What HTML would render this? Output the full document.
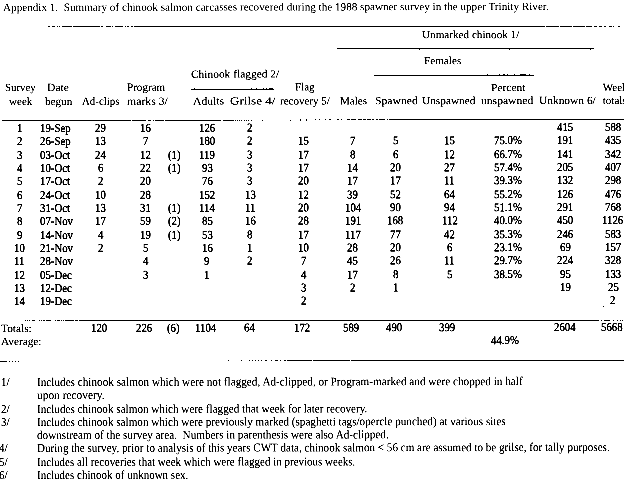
<!DOCTYPE html>
<html><head><meta charset="utf-8"><style>
html,body{margin:0;padding:0;background:#fff;}
body{width:624px;height:503px;position:relative;overflow:hidden;filter:grayscale(1) contrast(3);font-family:"Liberation Serif",serif;color:#000;}
.t{position:absolute;white-space:pre;line-height:1;-webkit-text-stroke:0.15px #000;transform-origin:0 0;}
.l{position:absolute;background:#000;}
</style></head><body>

<div id="w" style="position:absolute;left:0;top:0;width:624px;height:503px;transform-origin:0 0;transform:skewY(-0.1deg)">
<div class="t" style="left:3.40px;top:1.66px;font-size:11.15px;transform:scale(1.0011,1.0000);-webkit-text-stroke:0.08px #000">Appendix 1.  Summary of chinook salmon carcasses recovered during the 1988 spawner survey in the upper Trinity River.</div>
<div class="t" style="left:421.80px;top:29.79px;font-size:11px;transform:scale(1.0144,1.0000)">Unmarked chinook 1/</div>
<div class="t" style="left:424.40px;top:55.79px;font-size:11px;transform:scale(1.0156,1.0000)">Females</div>
<div class="t" style="left:191.00px;top:68.79px;font-size:11px;transform:scale(1.0380,1.0000)">Chinook flagged 2/</div>
<div class="t" style="left:5.40px;top:81.79px;font-size:11px;transform:scale(0.9844,1.0000)">Survey</div>
<div class="t" style="left:8.70px;top:95.79px;font-size:11px;transform:scale(1.0082,1.0000)">week</div>
<div class="t" style="left:47.40px;top:81.79px;font-size:11px;transform:scale(1.0582,1.0000)">Date</div>
<div class="t" style="left:44.60px;top:95.79px;font-size:11px;transform:scale(1.0151,1.0000)">begun</div>
<div class="t" style="left:81.70px;top:95.79px;font-size:11px;transform:scale(0.9869,1.0000)">Ad-clips</div>
<div class="t" style="left:127.20px;top:81.79px;font-size:11px;transform:scale(1.0080,1.0000)">Program</div>
<div class="t" style="left:127.20px;top:95.79px;font-size:11px;transform:scale(1.0700,1.0000)">marks 3/</div>
<div class="t" style="left:192.70px;top:95.79px;font-size:11px;transform:scale(1.0609,1.0000)">Adults</div>
<div class="t" style="left:230.10px;top:95.79px;font-size:11px;transform:scale(1.1903,1.0000)">Grilse 4/</div>
<div class="t" style="left:294.60px;top:81.79px;font-size:11px;transform:scale(1.0010,1.0000)">Flag</div>
<div class="t" style="left:280.40px;top:95.79px;font-size:11px;transform:scale(1.0014,1.0000)">recovery 5/</div>
<div class="t" style="left:339.70px;top:95.79px;font-size:11px;transform:scale(1.0076,1.0000)">Males</div>
<div class="t" style="left:374.60px;top:95.79px;font-size:11px;transform:scale(1.0592,1.0000)">Spawned</div>
<div class="t" style="left:422.20px;top:95.79px;font-size:11px;transform:scale(1.0285,1.0000)">Unspawned</div>
<div class="t" style="left:490.90px;top:82.79px;font-size:11px;transform:scale(1.0455,1.0000)">Percent</div>
<div class="t" style="left:480.90px;top:95.79px;font-size:11px;transform:scale(1.0566,1.0000)">unspawned</div>
<div class="t" style="left:539.00px;top:95.79px;font-size:11px;transform:scale(1.0379,1.0000)">Unknown 6/</div>
<div class="t" style="left:602.80px;top:82.79px;font-size:11px">Week</div>
<div class="t" style="left:602.80px;top:95.79px;font-size:11px">totals</div>
<div class="t" style="left:16.80px;top:122.05px;font-size:12px;transform:scale(0.9000,1.0000);-webkit-text-stroke:0.35px #000">1</div>
<div class="t" style="left:39.60px;top:122.05px;font-size:12px;transform:scale(0.9000,1.0000);-webkit-text-stroke:0.35px #000">19-Sep</div>
<div class="t" style="left:95.00px;top:122.05px;font-size:12px;transform:scale(0.9000,1.0000);-webkit-text-stroke:0.35px #000">29</div>
<div class="t" style="left:140.20px;top:122.05px;font-size:12px;transform:scale(0.9000,1.0000);-webkit-text-stroke:0.35px #000">16</div>
<div class="t" style="left:198.90px;top:122.05px;font-size:12px;transform:scale(0.9000,1.0000);-webkit-text-stroke:0.35px #000">126</div>
<div class="t" style="left:247.30px;top:122.05px;font-size:12px;transform:scale(0.9000,1.0000);-webkit-text-stroke:0.35px #000">2</div>
<div class="t" style="left:557.20px;top:122.05px;font-size:12px;transform:scale(0.9000,1.0000);-webkit-text-stroke:0.35px #000">415</div>
<div class="t" style="left:604.90px;top:122.05px;font-size:12px;transform:scale(0.9000,1.0000);-webkit-text-stroke:0.35px #000">588</div>
<div class="t" style="left:16.80px;top:135.38px;font-size:12px;transform:scale(0.9000,1.0000);-webkit-text-stroke:0.35px #000">2</div>
<div class="t" style="left:39.60px;top:135.38px;font-size:12px;transform:scale(0.9000,1.0000);-webkit-text-stroke:0.35px #000">26-Sep</div>
<div class="t" style="left:95.00px;top:135.38px;font-size:12px;transform:scale(0.9000,1.0000);-webkit-text-stroke:0.35px #000">13</div>
<div class="t" style="left:142.90px;top:135.38px;font-size:12px;transform:scale(0.9000,1.0000);-webkit-text-stroke:0.35px #000">7</div>
<div class="t" style="left:198.90px;top:135.38px;font-size:12px;transform:scale(0.9000,1.0000);-webkit-text-stroke:0.35px #000">180</div>
<div class="t" style="left:247.30px;top:135.38px;font-size:12px;transform:scale(0.9000,1.0000);-webkit-text-stroke:0.35px #000">2</div>
<div class="t" style="left:298.40px;top:135.38px;font-size:12px;transform:scale(0.9000,1.0000);-webkit-text-stroke:0.35px #000">15</div>
<div class="t" style="left:350.00px;top:135.38px;font-size:12px;transform:scale(0.9000,1.0000);-webkit-text-stroke:0.35px #000">7</div>
<div class="t" style="left:392.60px;top:135.38px;font-size:12px;transform:scale(0.9000,1.0000);-webkit-text-stroke:0.35px #000">5</div>
<div class="t" style="left:444.10px;top:135.38px;font-size:12px;transform:scale(0.9000,1.0000);-webkit-text-stroke:0.35px #000">15</div>
<div class="t" style="left:493.64px;top:135.38px;font-size:12px;transform:scale(0.9000,1.0000);-webkit-text-stroke:0.35px #000">75.0%</div>
<div class="t" style="left:557.20px;top:135.38px;font-size:12px;transform:scale(0.9000,1.0000);-webkit-text-stroke:0.35px #000">191</div>
<div class="t" style="left:604.90px;top:135.38px;font-size:12px;transform:scale(0.9000,1.0000);-webkit-text-stroke:0.35px #000">435</div>
<div class="t" style="left:16.80px;top:148.71px;font-size:12px;transform:scale(0.9000,1.0000);-webkit-text-stroke:0.35px #000">3</div>
<div class="t" style="left:39.60px;top:148.71px;font-size:12px;transform:scale(0.9000,1.0000);-webkit-text-stroke:0.35px #000">03-Oct</div>
<div class="t" style="left:95.00px;top:148.71px;font-size:12px;transform:scale(0.9000,1.0000);-webkit-text-stroke:0.35px #000">24</div>
<div class="t" style="left:140.20px;top:148.71px;font-size:12px;transform:scale(0.9000,1.0000);-webkit-text-stroke:0.35px #000">12</div>
<div class="t" style="left:167.91px;top:148.71px;font-size:12px;transform:scale(0.9000,1.0000);-webkit-text-stroke:0.35px #000">(1)</div>
<div class="t" style="left:199.09px;top:148.71px;font-size:12px;transform:scale(0.9000,1.0000);-webkit-text-stroke:0.35px #000">119</div>
<div class="t" style="left:247.30px;top:148.71px;font-size:12px;transform:scale(0.9000,1.0000);-webkit-text-stroke:0.35px #000">3</div>
<div class="t" style="left:298.40px;top:148.71px;font-size:12px;transform:scale(0.9000,1.0000);-webkit-text-stroke:0.35px #000">17</div>
<div class="t" style="left:350.00px;top:148.71px;font-size:12px;transform:scale(0.9000,1.0000);-webkit-text-stroke:0.35px #000">8</div>
<div class="t" style="left:392.60px;top:148.71px;font-size:12px;transform:scale(0.9000,1.0000);-webkit-text-stroke:0.35px #000">6</div>
<div class="t" style="left:444.10px;top:148.71px;font-size:12px;transform:scale(0.9000,1.0000);-webkit-text-stroke:0.35px #000">12</div>
<div class="t" style="left:493.64px;top:148.71px;font-size:12px;transform:scale(0.9000,1.0000);-webkit-text-stroke:0.35px #000">66.7%</div>
<div class="t" style="left:557.20px;top:148.71px;font-size:12px;transform:scale(0.9000,1.0000);-webkit-text-stroke:0.35px #000">141</div>
<div class="t" style="left:604.90px;top:148.71px;font-size:12px;transform:scale(0.9000,1.0000);-webkit-text-stroke:0.35px #000">342</div>
<div class="t" style="left:16.80px;top:162.04px;font-size:12px;transform:scale(0.9000,1.0000);-webkit-text-stroke:0.35px #000">4</div>
<div class="t" style="left:39.60px;top:162.04px;font-size:12px;transform:scale(0.9000,1.0000);-webkit-text-stroke:0.35px #000">10-Oct</div>
<div class="t" style="left:97.70px;top:162.04px;font-size:12px;transform:scale(0.9000,1.0000);-webkit-text-stroke:0.35px #000">6</div>
<div class="t" style="left:140.20px;top:162.04px;font-size:12px;transform:scale(0.9000,1.0000);-webkit-text-stroke:0.35px #000">22</div>
<div class="t" style="left:167.91px;top:162.04px;font-size:12px;transform:scale(0.9000,1.0000);-webkit-text-stroke:0.35px #000">(1)</div>
<div class="t" style="left:201.60px;top:162.04px;font-size:12px;transform:scale(0.9000,1.0000);-webkit-text-stroke:0.35px #000">93</div>
<div class="t" style="left:247.30px;top:162.04px;font-size:12px;transform:scale(0.9000,1.0000);-webkit-text-stroke:0.35px #000">3</div>
<div class="t" style="left:298.40px;top:162.04px;font-size:12px;transform:scale(0.9000,1.0000);-webkit-text-stroke:0.35px #000">17</div>
<div class="t" style="left:347.30px;top:162.04px;font-size:12px;transform:scale(0.9000,1.0000);-webkit-text-stroke:0.35px #000">14</div>
<div class="t" style="left:389.90px;top:162.04px;font-size:12px;transform:scale(0.9000,1.0000);-webkit-text-stroke:0.35px #000">20</div>
<div class="t" style="left:444.10px;top:162.04px;font-size:12px;transform:scale(0.9000,1.0000);-webkit-text-stroke:0.35px #000">27</div>
<div class="t" style="left:493.64px;top:162.04px;font-size:12px;transform:scale(0.9000,1.0000);-webkit-text-stroke:0.35px #000">57.4%</div>
<div class="t" style="left:557.20px;top:162.04px;font-size:12px;transform:scale(0.9000,1.0000);-webkit-text-stroke:0.35px #000">205</div>
<div class="t" style="left:604.90px;top:162.04px;font-size:12px;transform:scale(0.9000,1.0000);-webkit-text-stroke:0.35px #000">407</div>
<div class="t" style="left:16.80px;top:175.37px;font-size:12px;transform:scale(0.9000,1.0000);-webkit-text-stroke:0.35px #000">5</div>
<div class="t" style="left:39.60px;top:175.37px;font-size:12px;transform:scale(0.9000,1.0000);-webkit-text-stroke:0.35px #000">17-Oct</div>
<div class="t" style="left:97.70px;top:175.37px;font-size:12px;transform:scale(0.9000,1.0000);-webkit-text-stroke:0.35px #000">2</div>
<div class="t" style="left:140.20px;top:175.37px;font-size:12px;transform:scale(0.9000,1.0000);-webkit-text-stroke:0.35px #000">20</div>
<div class="t" style="left:201.60px;top:175.37px;font-size:12px;transform:scale(0.9000,1.0000);-webkit-text-stroke:0.35px #000">76</div>
<div class="t" style="left:247.30px;top:175.37px;font-size:12px;transform:scale(0.9000,1.0000);-webkit-text-stroke:0.35px #000">3</div>
<div class="t" style="left:298.40px;top:175.37px;font-size:12px;transform:scale(0.9000,1.0000);-webkit-text-stroke:0.35px #000">20</div>
<div class="t" style="left:347.30px;top:175.37px;font-size:12px;transform:scale(0.9000,1.0000);-webkit-text-stroke:0.35px #000">17</div>
<div class="t" style="left:389.90px;top:175.37px;font-size:12px;transform:scale(0.9000,1.0000);-webkit-text-stroke:0.35px #000">17</div>
<div class="t" style="left:444.29px;top:175.37px;font-size:12px;transform:scale(0.9000,1.0000);-webkit-text-stroke:0.35px #000">11</div>
<div class="t" style="left:493.64px;top:175.37px;font-size:12px;transform:scale(0.9000,1.0000);-webkit-text-stroke:0.35px #000">39.3%</div>
<div class="t" style="left:557.20px;top:175.37px;font-size:12px;transform:scale(0.9000,1.0000);-webkit-text-stroke:0.35px #000">132</div>
<div class="t" style="left:604.90px;top:175.37px;font-size:12px;transform:scale(0.9000,1.0000);-webkit-text-stroke:0.35px #000">298</div>
<div class="t" style="left:16.80px;top:188.70px;font-size:12px;transform:scale(0.9000,1.0000);-webkit-text-stroke:0.35px #000">6</div>
<div class="t" style="left:39.60px;top:188.70px;font-size:12px;transform:scale(0.9000,1.0000);-webkit-text-stroke:0.35px #000">24-Oct</div>
<div class="t" style="left:95.00px;top:188.70px;font-size:12px;transform:scale(0.9000,1.0000);-webkit-text-stroke:0.35px #000">10</div>
<div class="t" style="left:140.20px;top:188.70px;font-size:12px;transform:scale(0.9000,1.0000);-webkit-text-stroke:0.35px #000">28</div>
<div class="t" style="left:198.90px;top:188.70px;font-size:12px;transform:scale(0.9000,1.0000);-webkit-text-stroke:0.35px #000">152</div>
<div class="t" style="left:244.60px;top:188.70px;font-size:12px;transform:scale(0.9000,1.0000);-webkit-text-stroke:0.35px #000">13</div>
<div class="t" style="left:298.40px;top:188.70px;font-size:12px;transform:scale(0.9000,1.0000);-webkit-text-stroke:0.35px #000">12</div>
<div class="t" style="left:347.30px;top:188.70px;font-size:12px;transform:scale(0.9000,1.0000);-webkit-text-stroke:0.35px #000">39</div>
<div class="t" style="left:389.90px;top:188.70px;font-size:12px;transform:scale(0.9000,1.0000);-webkit-text-stroke:0.35px #000">52</div>
<div class="t" style="left:444.10px;top:188.70px;font-size:12px;transform:scale(0.9000,1.0000);-webkit-text-stroke:0.35px #000">64</div>
<div class="t" style="left:493.64px;top:188.70px;font-size:12px;transform:scale(0.9000,1.0000);-webkit-text-stroke:0.35px #000">55.2%</div>
<div class="t" style="left:557.20px;top:188.70px;font-size:12px;transform:scale(0.9000,1.0000);-webkit-text-stroke:0.35px #000">126</div>
<div class="t" style="left:604.90px;top:188.70px;font-size:12px;transform:scale(0.9000,1.0000);-webkit-text-stroke:0.35px #000">476</div>
<div class="t" style="left:16.80px;top:202.03px;font-size:12px;transform:scale(0.9000,1.0000);-webkit-text-stroke:0.35px #000">7</div>
<div class="t" style="left:39.60px;top:202.03px;font-size:12px;transform:scale(0.9000,1.0000);-webkit-text-stroke:0.35px #000">31-Oct</div>
<div class="t" style="left:95.00px;top:202.03px;font-size:12px;transform:scale(0.9000,1.0000);-webkit-text-stroke:0.35px #000">13</div>
<div class="t" style="left:140.20px;top:202.03px;font-size:12px;transform:scale(0.9000,1.0000);-webkit-text-stroke:0.35px #000">31</div>
<div class="t" style="left:167.91px;top:202.03px;font-size:12px;transform:scale(0.9000,1.0000);-webkit-text-stroke:0.35px #000">(1)</div>
<div class="t" style="left:199.09px;top:202.03px;font-size:12px;transform:scale(0.9000,1.0000);-webkit-text-stroke:0.35px #000">114</div>
<div class="t" style="left:244.79px;top:202.03px;font-size:12px;transform:scale(0.9000,1.0000);-webkit-text-stroke:0.35px #000">11</div>
<div class="t" style="left:298.40px;top:202.03px;font-size:12px;transform:scale(0.9000,1.0000);-webkit-text-stroke:0.35px #000">20</div>
<div class="t" style="left:344.60px;top:202.03px;font-size:12px;transform:scale(0.9000,1.0000);-webkit-text-stroke:0.35px #000">104</div>
<div class="t" style="left:389.90px;top:202.03px;font-size:12px;transform:scale(0.9000,1.0000);-webkit-text-stroke:0.35px #000">90</div>
<div class="t" style="left:444.10px;top:202.03px;font-size:12px;transform:scale(0.9000,1.0000);-webkit-text-stroke:0.35px #000">94</div>
<div class="t" style="left:493.64px;top:202.03px;font-size:12px;transform:scale(0.9000,1.0000);-webkit-text-stroke:0.35px #000">51.1%</div>
<div class="t" style="left:557.20px;top:202.03px;font-size:12px;transform:scale(0.9000,1.0000);-webkit-text-stroke:0.35px #000">291</div>
<div class="t" style="left:604.90px;top:202.03px;font-size:12px;transform:scale(0.9000,1.0000);-webkit-text-stroke:0.35px #000">768</div>
<div class="t" style="left:16.80px;top:215.36px;font-size:12px;transform:scale(0.9000,1.0000);-webkit-text-stroke:0.35px #000">8</div>
<div class="t" style="left:39.60px;top:215.36px;font-size:12px;transform:scale(0.9000,1.0000);-webkit-text-stroke:0.35px #000">07-Nov</div>
<div class="t" style="left:95.00px;top:215.36px;font-size:12px;transform:scale(0.9000,1.0000);-webkit-text-stroke:0.35px #000">17</div>
<div class="t" style="left:140.20px;top:215.36px;font-size:12px;transform:scale(0.9000,1.0000);-webkit-text-stroke:0.35px #000">59</div>
<div class="t" style="left:167.91px;top:215.36px;font-size:12px;transform:scale(0.9000,1.0000);-webkit-text-stroke:0.35px #000">(2)</div>
<div class="t" style="left:201.60px;top:215.36px;font-size:12px;transform:scale(0.9000,1.0000);-webkit-text-stroke:0.35px #000">85</div>
<div class="t" style="left:244.60px;top:215.36px;font-size:12px;transform:scale(0.9000,1.0000);-webkit-text-stroke:0.35px #000">16</div>
<div class="t" style="left:298.40px;top:215.36px;font-size:12px;transform:scale(0.9000,1.0000);-webkit-text-stroke:0.35px #000">28</div>
<div class="t" style="left:344.60px;top:215.36px;font-size:12px;transform:scale(0.9000,1.0000);-webkit-text-stroke:0.35px #000">191</div>
<div class="t" style="left:387.20px;top:215.36px;font-size:12px;transform:scale(0.9000,1.0000);-webkit-text-stroke:0.35px #000">168</div>
<div class="t" style="left:441.59px;top:215.36px;font-size:12px;transform:scale(0.9000,1.0000);-webkit-text-stroke:0.35px #000">112</div>
<div class="t" style="left:493.64px;top:215.36px;font-size:12px;transform:scale(0.9000,1.0000);-webkit-text-stroke:0.35px #000">40.0%</div>
<div class="t" style="left:557.20px;top:215.36px;font-size:12px;transform:scale(0.9000,1.0000);-webkit-text-stroke:0.35px #000">450</div>
<div class="t" style="left:602.39px;top:215.36px;font-size:12px;transform:scale(0.9000,1.0000);-webkit-text-stroke:0.35px #000">1126</div>
<div class="t" style="left:16.80px;top:228.69px;font-size:12px;transform:scale(0.9000,1.0000);-webkit-text-stroke:0.35px #000">9</div>
<div class="t" style="left:39.60px;top:228.69px;font-size:12px;transform:scale(0.9000,1.0000);-webkit-text-stroke:0.35px #000">14-Nov</div>
<div class="t" style="left:97.70px;top:228.69px;font-size:12px;transform:scale(0.9000,1.0000);-webkit-text-stroke:0.35px #000">4</div>
<div class="t" style="left:140.20px;top:228.69px;font-size:12px;transform:scale(0.9000,1.0000);-webkit-text-stroke:0.35px #000">19</div>
<div class="t" style="left:167.91px;top:228.69px;font-size:12px;transform:scale(0.9000,1.0000);-webkit-text-stroke:0.35px #000">(1)</div>
<div class="t" style="left:201.60px;top:228.69px;font-size:12px;transform:scale(0.9000,1.0000);-webkit-text-stroke:0.35px #000">53</div>
<div class="t" style="left:247.30px;top:228.69px;font-size:12px;transform:scale(0.9000,1.0000);-webkit-text-stroke:0.35px #000">8</div>
<div class="t" style="left:298.40px;top:228.69px;font-size:12px;transform:scale(0.9000,1.0000);-webkit-text-stroke:0.35px #000">17</div>
<div class="t" style="left:344.79px;top:228.69px;font-size:12px;transform:scale(0.9000,1.0000);-webkit-text-stroke:0.35px #000">117</div>
<div class="t" style="left:389.90px;top:228.69px;font-size:12px;transform:scale(0.9000,1.0000);-webkit-text-stroke:0.35px #000">77</div>
<div class="t" style="left:444.10px;top:228.69px;font-size:12px;transform:scale(0.9000,1.0000);-webkit-text-stroke:0.35px #000">42</div>
<div class="t" style="left:493.64px;top:228.69px;font-size:12px;transform:scale(0.9000,1.0000);-webkit-text-stroke:0.35px #000">35.3%</div>
<div class="t" style="left:557.20px;top:228.69px;font-size:12px;transform:scale(0.9000,1.0000);-webkit-text-stroke:0.35px #000">246</div>
<div class="t" style="left:604.90px;top:228.69px;font-size:12px;transform:scale(0.9000,1.0000);-webkit-text-stroke:0.35px #000">583</div>
<div class="t" style="left:14.10px;top:242.02px;font-size:12px;transform:scale(0.9000,1.0000);-webkit-text-stroke:0.35px #000">10</div>
<div class="t" style="left:39.60px;top:242.02px;font-size:12px;transform:scale(0.9000,1.0000);-webkit-text-stroke:0.35px #000">21-Nov</div>
<div class="t" style="left:97.70px;top:242.02px;font-size:12px;transform:scale(0.9000,1.0000);-webkit-text-stroke:0.35px #000">2</div>
<div class="t" style="left:142.90px;top:242.02px;font-size:12px;transform:scale(0.9000,1.0000);-webkit-text-stroke:0.35px #000">5</div>
<div class="t" style="left:201.60px;top:242.02px;font-size:12px;transform:scale(0.9000,1.0000);-webkit-text-stroke:0.35px #000">16</div>
<div class="t" style="left:247.30px;top:242.02px;font-size:12px;transform:scale(0.9000,1.0000);-webkit-text-stroke:0.35px #000">1</div>
<div class="t" style="left:298.40px;top:242.02px;font-size:12px;transform:scale(0.9000,1.0000);-webkit-text-stroke:0.35px #000">10</div>
<div class="t" style="left:347.30px;top:242.02px;font-size:12px;transform:scale(0.9000,1.0000);-webkit-text-stroke:0.35px #000">28</div>
<div class="t" style="left:389.90px;top:242.02px;font-size:12px;transform:scale(0.9000,1.0000);-webkit-text-stroke:0.35px #000">20</div>
<div class="t" style="left:446.80px;top:242.02px;font-size:12px;transform:scale(0.9000,1.0000);-webkit-text-stroke:0.35px #000">6</div>
<div class="t" style="left:493.64px;top:242.02px;font-size:12px;transform:scale(0.9000,1.0000);-webkit-text-stroke:0.35px #000">23.1%</div>
<div class="t" style="left:559.90px;top:242.02px;font-size:12px;transform:scale(0.9000,1.0000);-webkit-text-stroke:0.35px #000">69</div>
<div class="t" style="left:604.90px;top:242.02px;font-size:12px;transform:scale(0.9000,1.0000);-webkit-text-stroke:0.35px #000">157</div>
<div class="t" style="left:14.29px;top:255.35px;font-size:12px;transform:scale(0.9000,1.0000);-webkit-text-stroke:0.35px #000">11</div>
<div class="t" style="left:39.60px;top:255.35px;font-size:12px;transform:scale(0.9000,1.0000);-webkit-text-stroke:0.35px #000">28-Nov</div>
<div class="t" style="left:142.90px;top:255.35px;font-size:12px;transform:scale(0.9000,1.0000);-webkit-text-stroke:0.35px #000">4</div>
<div class="t" style="left:204.30px;top:255.35px;font-size:12px;transform:scale(0.9000,1.0000);-webkit-text-stroke:0.35px #000">9</div>
<div class="t" style="left:247.30px;top:255.35px;font-size:12px;transform:scale(0.9000,1.0000);-webkit-text-stroke:0.35px #000">2</div>
<div class="t" style="left:301.10px;top:255.35px;font-size:12px;transform:scale(0.9000,1.0000);-webkit-text-stroke:0.35px #000">7</div>
<div class="t" style="left:347.30px;top:255.35px;font-size:12px;transform:scale(0.9000,1.0000);-webkit-text-stroke:0.35px #000">45</div>
<div class="t" style="left:389.90px;top:255.35px;font-size:12px;transform:scale(0.9000,1.0000);-webkit-text-stroke:0.35px #000">26</div>
<div class="t" style="left:444.29px;top:255.35px;font-size:12px;transform:scale(0.9000,1.0000);-webkit-text-stroke:0.35px #000">11</div>
<div class="t" style="left:493.64px;top:255.35px;font-size:12px;transform:scale(0.9000,1.0000);-webkit-text-stroke:0.35px #000">29.7%</div>
<div class="t" style="left:557.20px;top:255.35px;font-size:12px;transform:scale(0.9000,1.0000);-webkit-text-stroke:0.35px #000">224</div>
<div class="t" style="left:604.90px;top:255.35px;font-size:12px;transform:scale(0.9000,1.0000);-webkit-text-stroke:0.35px #000">328</div>
<div class="t" style="left:14.10px;top:268.68px;font-size:12px;transform:scale(0.9000,1.0000);-webkit-text-stroke:0.35px #000">12</div>
<div class="t" style="left:39.60px;top:268.68px;font-size:12px;transform:scale(0.9000,1.0000);-webkit-text-stroke:0.35px #000">05-Dec</div>
<div class="t" style="left:142.90px;top:268.68px;font-size:12px;transform:scale(0.9000,1.0000);-webkit-text-stroke:0.35px #000">3</div>
<div class="t" style="left:204.30px;top:268.68px;font-size:12px;transform:scale(0.9000,1.0000);-webkit-text-stroke:0.35px #000">1</div>
<div class="t" style="left:301.10px;top:268.68px;font-size:12px;transform:scale(0.9000,1.0000);-webkit-text-stroke:0.35px #000">4</div>
<div class="t" style="left:347.30px;top:268.68px;font-size:12px;transform:scale(0.9000,1.0000);-webkit-text-stroke:0.35px #000">17</div>
<div class="t" style="left:392.60px;top:268.68px;font-size:12px;transform:scale(0.9000,1.0000);-webkit-text-stroke:0.35px #000">8</div>
<div class="t" style="left:446.80px;top:268.68px;font-size:12px;transform:scale(0.9000,1.0000);-webkit-text-stroke:0.35px #000">5</div>
<div class="t" style="left:493.64px;top:268.68px;font-size:12px;transform:scale(0.9000,1.0000);-webkit-text-stroke:0.35px #000">38.5%</div>
<div class="t" style="left:559.90px;top:268.68px;font-size:12px;transform:scale(0.9000,1.0000);-webkit-text-stroke:0.35px #000">95</div>
<div class="t" style="left:604.90px;top:268.68px;font-size:12px;transform:scale(0.9000,1.0000);-webkit-text-stroke:0.35px #000">133</div>
<div class="t" style="left:14.10px;top:282.01px;font-size:12px;transform:scale(0.9000,1.0000);-webkit-text-stroke:0.35px #000">13</div>
<div class="t" style="left:39.60px;top:282.01px;font-size:12px;transform:scale(0.9000,1.0000);-webkit-text-stroke:0.35px #000">12-Dec</div>
<div class="t" style="left:301.10px;top:282.01px;font-size:12px;transform:scale(0.9000,1.0000);-webkit-text-stroke:0.35px #000">3</div>
<div class="t" style="left:350.00px;top:282.01px;font-size:12px;transform:scale(0.9000,1.0000);-webkit-text-stroke:0.35px #000">2</div>
<div class="t" style="left:392.60px;top:282.01px;font-size:12px;transform:scale(0.9000,1.0000);-webkit-text-stroke:0.35px #000">1</div>
<div class="t" style="left:559.90px;top:282.01px;font-size:12px;transform:scale(0.9000,1.0000);-webkit-text-stroke:0.35px #000">19</div>
<div class="t" style="left:607.60px;top:282.01px;font-size:12px;transform:scale(0.9000,1.0000);-webkit-text-stroke:0.35px #000">25</div>
<div class="t" style="left:14.10px;top:295.34px;font-size:12px;transform:scale(0.9000,1.0000);-webkit-text-stroke:0.35px #000">14</div>
<div class="t" style="left:39.60px;top:295.34px;font-size:12px;transform:scale(0.9000,1.0000);-webkit-text-stroke:0.35px #000">19-Dec</div>
<div class="t" style="left:301.10px;top:295.34px;font-size:12px;transform:scale(0.9000,1.0000);-webkit-text-stroke:0.35px #000">2</div>
<div class="t" style="left:610.30px;top:295.34px;font-size:12px;transform:scale(0.9000,1.0000);-webkit-text-stroke:0.35px #000">2</div>
<div class="t" style="left:0.90px;top:322.79px;font-size:11px;transform:scale(1.0318,1.0000)">Totals:</div>
<div class="t" style="left:90.90px;top:321.95px;font-size:12px;transform:scale(0.9000,1.0000);-webkit-text-stroke:0.35px #000">120</div>
<div class="t" style="left:136.20px;top:321.95px;font-size:12px;transform:scale(0.9000,1.0000);-webkit-text-stroke:0.35px #000">226</div>
<div class="t" style="left:167.21px;top:321.95px;font-size:12px;transform:scale(0.9000,1.0000);-webkit-text-stroke:0.35px #000">(6)</div>
<div class="t" style="left:194.79px;top:321.95px;font-size:12px;transform:scale(0.9000,1.0000);-webkit-text-stroke:0.35px #000">1104</div>
<div class="t" style="left:243.90px;top:321.95px;font-size:12px;transform:scale(0.9000,1.0000);-webkit-text-stroke:0.35px #000">64</div>
<div class="t" style="left:294.40px;top:321.95px;font-size:12px;transform:scale(0.9000,1.0000);-webkit-text-stroke:0.35px #000">172</div>
<div class="t" style="left:343.10px;top:321.95px;font-size:12px;transform:scale(0.9000,1.0000);-webkit-text-stroke:0.35px #000">589</div>
<div class="t" style="left:385.60px;top:321.95px;font-size:12px;transform:scale(0.9000,1.0000);-webkit-text-stroke:0.35px #000">490</div>
<div class="t" style="left:438.90px;top:321.95px;font-size:12px;transform:scale(0.9000,1.0000);-webkit-text-stroke:0.35px #000">399</div>
<div class="t" style="left:553.80px;top:321.95px;font-size:12px;transform:scale(0.9000,1.0000);-webkit-text-stroke:0.35px #000">2604</div>
<div class="t" style="left:600.50px;top:321.95px;font-size:12px;transform:scale(0.9000,1.0000);-webkit-text-stroke:0.35px #000">5668</div>
<div class="t" style="left:0.90px;top:336.09px;font-size:11px;transform:scale(1.0256,1.0000)">Average:</div>
<div class="t" style="left:491.14px;top:335.25px;font-size:12px;transform:scale(0.9000,1.0000);-webkit-text-stroke:0.35px #000">44.9%</div>
<div class="t" style="left:1.00px;top:375.95px;font-size:12px;transform:scale(0.9200,1.0000);-webkit-text-stroke:0.15px #000">1/</div>
<div class="t" style="left:37.40px;top:375.95px;font-size:12px;transform:scale(0.9343,1.0000);-webkit-text-stroke:0.15px #000">Includes chinook salmon which were not flagged, Ad-clipped, or Program-marked and were chopped in half</div>
<div class="t" style="left:37.40px;top:389.25px;font-size:12px;transform:scale(0.9492,1.0000);-webkit-text-stroke:0.15px #000">upon recovery.</div>
<div class="t" style="left:1.00px;top:402.85px;font-size:12px;transform:scale(0.9200,1.0000);-webkit-text-stroke:0.15px #000">2/</div>
<div class="t" style="left:37.40px;top:402.85px;font-size:12px;transform:scale(0.9296,1.0000);-webkit-text-stroke:0.15px #000">Includes chinook salmon which were flagged that week for later recovery.</div>
<div class="t" style="left:1.00px;top:416.15px;font-size:12px;transform:scale(0.9200,1.0000);-webkit-text-stroke:0.15px #000">3/</div>
<div class="t" style="left:37.40px;top:416.15px;font-size:12px;transform:scale(0.9290,1.0000);-webkit-text-stroke:0.15px #000">Includes chinook salmon which were previously marked (spaghetti tags/opercle punched) at various sites</div>
<div class="t" style="left:37.40px;top:429.45px;font-size:12px;transform:scale(0.9316,1.0000);-webkit-text-stroke:0.15px #000">downstream of the survey area.  Numbers in parenthesis were also Ad-clipped.</div>
<div class="t" style="left:-0.80px;top:442.45px;font-size:12px;transform:scale(0.9200,1.0000);-webkit-text-stroke:0.15px #000">4/</div>
<div class="t" style="left:37.40px;top:442.45px;font-size:12px;transform:scale(0.9247,1.0000);-webkit-text-stroke:0.15px #000">During the survey, prior to analysis of this years CWT data, chinook salmon &lt; 56 cm are assumed to be grilse, for tally purposes.</div>
<div class="t" style="left:-0.80px;top:455.95px;font-size:12px;transform:scale(0.9200,1.0000);-webkit-text-stroke:0.15px #000">5/</div>
<div class="t" style="left:37.40px;top:455.95px;font-size:12px;transform:scale(0.9159,1.0000);-webkit-text-stroke:0.15px #000">Includes all recoveries that week which were flagged in previous weeks.</div>
<div class="t" style="left:-0.80px;top:468.95px;font-size:12px;transform:scale(0.9200,1.0000);-webkit-text-stroke:0.15px #000">6/</div>
<div class="t" style="left:37.40px;top:468.95px;font-size:12px;transform:scale(0.9170,1.0000);-webkit-text-stroke:0.15px #000">Includes chinook of unknown sex.</div>
</div>
<div class="l" style="left:48px;top:26px;width:1.6px;height:1px"></div>
<div class="l" style="left:52px;top:26px;width:2.9px;height:1px"></div>
<div class="l" style="left:56.8px;top:26px;width:1.0px;height:1px"></div>
<div class="l" style="left:58.7px;top:26px;width:1.0px;height:1px"></div>
<div class="l" style="left:61.9px;top:26px;width:9.7px;height:1px"></div>
<div class="l" style="left:72.8px;top:26px;width:27.0px;height:1px"></div>
<div class="l" style="left:101px;top:26px;width:1.7px;height:1px"></div>
<div class="l" style="left:105.9px;top:26px;width:5.1px;height:1px"></div>
<div class="l" style="left:111.6px;top:26px;width:1.6px;height:1px"></div>
<div class="l" style="left:115.2px;top:26px;width:7.6px;height:1px"></div>
<div class="l" style="left:124.9px;top:26px;width:1.1px;height:1px"></div>
<div class="l" style="left:127px;top:26px;width:1.9px;height:1px"></div>
<div class="l" style="left:130.5px;top:26px;width:2.6px;height:1px"></div>
<div class="l" style="left:134px;top:26px;width:216.0px;height:1px"></div>
<div class="l" style="left:350px;top:25.6px;width:194.8px;height:1px"></div>
<div class="l" style="left:546px;top:25.6px;width:13.0px;height:1px"></div>
<div class="l" style="left:560px;top:25.6px;width:12.0px;height:1px"></div>
<div class="l" style="left:573px;top:25.6px;width:11.5px;height:1px"></div>
<div class="l" style="left:586px;top:25.6px;width:6.0px;height:1px"></div>
<div class="l" style="left:593.5px;top:25.6px;width:3.5px;height:1px"></div>
<div class="l" style="left:599px;top:25.6px;width:3.0px;height:1px"></div>
<div class="l" style="left:604px;top:25.6px;width:2.0px;height:1px"></div>
<div class="l" style="left:609px;top:25.6px;width:2.5px;height:1px"></div>
<div class="l" style="left:613px;top:25.6px;width:1.0px;height:1px"></div>
<div class="l" style="left:618px;top:25.6px;width:2.0px;height:1px"></div>
<div class="l" style="left:337.2px;top:48px;width:256.5px;height:1px"></div>
<div class="l" style="left:374.1px;top:75px;width:160.1px;height:1px"></div>
<div class="l" style="left:191.2px;top:89px;width:82.5px;height:1px"></div>
<div class="l" style="left:487px;top:74px;width:1.0px;height:1px"></div>
<div class="l" style="left:499px;top:74px;width:1.0px;height:1px"></div>
<div class="l" style="left:503px;top:74px;width:2.0px;height:1px"></div>
<div class="l" style="left:507px;top:74px;width:1.0px;height:1px"></div>
<div class="l" style="left:514px;top:74px;width:1.0px;height:1px"></div>
<div class="l" style="left:520px;top:74px;width:6.0px;height:1px"></div>
<div class="l" style="left:528.5px;top:74px;width:1.0px;height:1px"></div>
<div class="l" style="left:419px;top:49px;width:1.0px;height:1px"></div>
<div class="l" style="left:509px;top:49px;width:1.0px;height:1px"></div>
<div class="l" style="left:590px;top:49px;width:1.0px;height:1px"></div>
<div class="l" style="left:194px;top:88px;width:1.0px;height:1px"></div>
<div class="l" style="left:251px;top:88px;width:1.0px;height:1px"></div>
<div class="l" style="left:256px;top:88px;width:1.0px;height:1px"></div>
<div class="l" style="left:263px;top:88px;width:1.0px;height:1px"></div>
<div class="l" style="left:266px;top:88px;width:1.0px;height:1px"></div>
<div class="l" style="left:269px;top:88px;width:4.0px;height:1px"></div>
<div class="l" style="left:603px;top:306px;width:1.0px;height:1px"></div>
<div class="l" style="left:2px;top:120px;width:128.8px;height:1px"></div>
<div class="l" style="left:132.1px;top:120px;width:14.4px;height:1px"></div>
<div class="l" style="left:148.1px;top:120px;width:3.2px;height:1px"></div>
<div class="l" style="left:152.5px;top:120px;width:0.8px;height:1px"></div>
<div class="l" style="left:154.9px;top:120px;width:8.8px;height:1px"></div>
<div class="l" style="left:165.3px;top:120px;width:56.1px;height:1px"></div>
<div class="l" style="left:223.2px;top:120px;width:10.5px;height:1px"></div>
<div class="l" style="left:235.2px;top:120px;width:1.0px;height:1px"></div>
<div class="l" style="left:237.2px;top:120px;width:1.0px;height:1px"></div>
<div class="l" style="left:239.2px;top:120px;width:1.0px;height:1px"></div>
<div class="l" style="left:241px;top:120px;width:1.0px;height:1px"></div>
<div class="l" style="left:243.8px;top:120px;width:1.0px;height:1px"></div>
<div class="l" style="left:246px;top:120px;width:1.0px;height:1px"></div>
<div class="l" style="left:248px;top:120px;width:1.0px;height:1px"></div>
<div class="l" style="left:250.5px;top:120px;width:1.2px;height:1px"></div>
<div class="l" style="left:261.5px;top:120px;width:1.0px;height:1px"></div>
<div class="l" style="left:289.5px;top:120px;width:1.0px;height:1px"></div>
<div class="l" style="left:299.5px;top:120px;width:1.0px;height:1px"></div>
<div class="l" style="left:305.5px;top:120px;width:1.0px;height:1px"></div>
<div class="l" style="left:300.3px;top:119.4px;width:1.0px;height:1px"></div>
<div class="l" style="left:305.5px;top:119.4px;width:1.0px;height:1px"></div>
<div class="l" style="left:314.7px;top:119.4px;width:1.0px;height:1px"></div>
<div class="l" style="left:318.7px;top:119.4px;width:1.0px;height:1px"></div>
<div class="l" style="left:325.1px;top:119.4px;width:1.0px;height:1px"></div>
<div class="l" style="left:328.8px;top:119.4px;width:2.5px;height:1px"></div>
<div class="l" style="left:336.9px;top:119.4px;width:2.4px;height:1px"></div>
<div class="l" style="left:340.9px;top:119.4px;width:1.6px;height:1px"></div>
<div class="l" style="left:346.5px;top:119.4px;width:3.2px;height:1px"></div>
<div class="l" style="left:351.3px;top:119.4px;width:4.8px;height:1px"></div>
<div class="l" style="left:357.7px;top:119.4px;width:4.0px;height:1px"></div>
<div class="l" style="left:363.3px;top:119.4px;width:2.4px;height:1px"></div>
<div class="l" style="left:367px;top:119.4px;width:3.5px;height:1px"></div>
<div class="l" style="left:372.1px;top:119.4px;width:2.4px;height:1px"></div>
<div class="l" style="left:376.1px;top:119.4px;width:1.6px;height:1px"></div>
<div class="l" style="left:378.8px;top:119.4px;width:6.1px;height:1px"></div>
<div class="l" style="left:386.5px;top:119.4px;width:0.8px;height:1px"></div>
<div class="l" style="left:388.5px;top:119.4px;width:235.5px;height:1px"></div>
<div class="l" style="left:24.8px;top:320px;width:1.0px;height:1px"></div>
<div class="l" style="left:26.7px;top:320px;width:1.0px;height:1px"></div>
<div class="l" style="left:28.8px;top:320px;width:1.6px;height:1px"></div>
<div class="l" style="left:32px;top:320px;width:3.2px;height:1px"></div>
<div class="l" style="left:38.9px;top:320px;width:1.1px;height:1px"></div>
<div class="l" style="left:41.3px;top:320px;width:1.1px;height:1px"></div>
<div class="l" style="left:43.2px;top:320px;width:1.6px;height:1px"></div>
<div class="l" style="left:46.4px;top:320px;width:4.8px;height:1px"></div>
<div class="l" style="left:54.9px;top:320px;width:1.1px;height:1px"></div>
<div class="l" style="left:57.2px;top:320px;width:2.8px;height:1px"></div>
<div class="l" style="left:60.9px;top:320px;width:1.1px;height:1px"></div>
<div class="l" style="left:62.9px;top:320px;width:1.2px;height:1px"></div>
<div class="l" style="left:64.9px;top:320px;width:8.8px;height:1px"></div>
<div class="l" style="left:75.3px;top:320px;width:2.7px;height:1px"></div>
<div class="l" style="left:79px;top:320px;width:520.3px;height:1px"></div>
<div class="l" style="left:600.9px;top:320px;width:1.6px;height:1px"></div>
<div class="l" style="left:604.1px;top:320px;width:5.6px;height:1px"></div>
<div class="l" style="left:613.2px;top:320px;width:1.0px;height:1px"></div>
<div class="l" style="left:617.2px;top:320px;width:1.0px;height:1px"></div>
<div class="l" style="left:619.7px;top:320px;width:1.0px;height:1px"></div>
<div class="l" style="left:622.1px;top:320px;width:1.0px;height:1px"></div>
<div class="l" style="left:0px;top:361px;width:7.2px;height:1px"></div>
<div class="l" style="left:9.4px;top:361px;width:1.0px;height:1px"></div>
<div class="l" style="left:12.3px;top:361px;width:1.0px;height:1px"></div>
<div class="l" style="left:15.2px;top:361px;width:1.0px;height:1px"></div>
<div class="l" style="left:17.9px;top:361px;width:1.0px;height:1px"></div>
<div class="l" style="left:228px;top:360px;width:1.0px;height:1px"></div>
<div class="l" style="left:241.2px;top:360px;width:1.0px;height:1px"></div>
<div class="l" style="left:248.5px;top:360px;width:1.0px;height:1px"></div>
<div class="l" style="left:251.5px;top:360px;width:1.0px;height:1px"></div>
<div class="l" style="left:254.8px;top:360px;width:1.0px;height:1px"></div>
<div class="l" style="left:258px;top:360px;width:1.0px;height:1px"></div>
<div class="l" style="left:261.2px;top:360px;width:1.0px;height:1px"></div>
<div class="l" style="left:265px;top:360px;width:2.3px;height:1px"></div>
<div class="l" style="left:271px;top:360px;width:1.0px;height:1px"></div>
<div class="l" style="left:275.3px;top:360px;width:3.2px;height:1px"></div>
<div class="l" style="left:279.6px;top:360px;width:1.0px;height:1px"></div>
<div class="l" style="left:284.1px;top:360px;width:1.6px;height:1px"></div>
<div class="l" style="left:287.3px;top:360px;width:24.7px;height:1px"></div>
<div class="l" style="left:313.1px;top:360px;width:36.6px;height:1px"></div>
<div class="l" style="left:351px;top:360px;width:273.0px;height:1px"></div>
</body></html>
